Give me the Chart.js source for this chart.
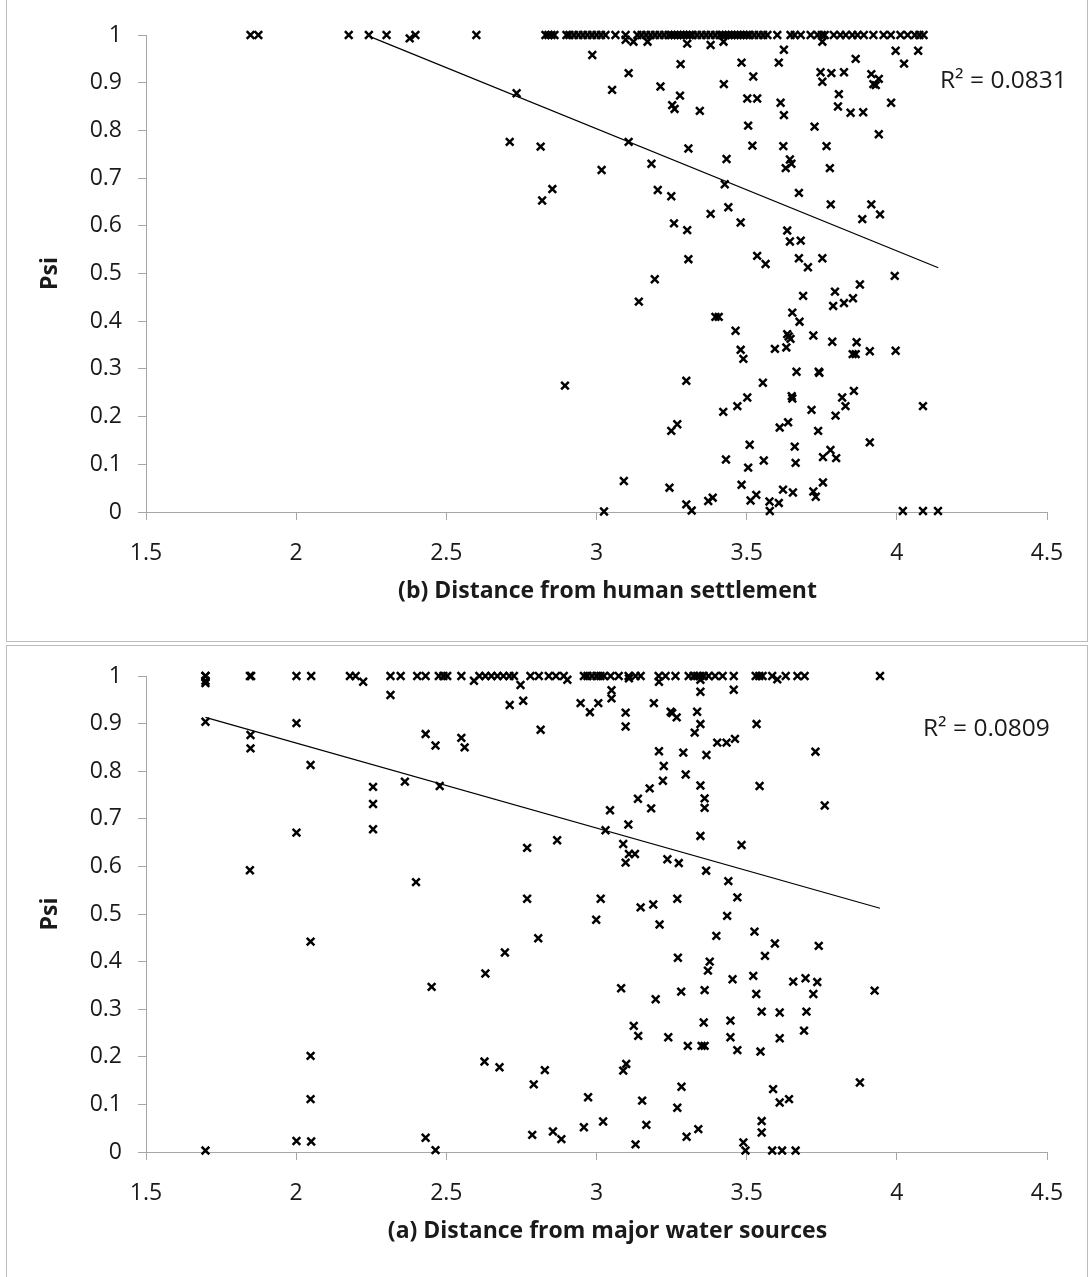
<!DOCTYPE html>
<html>
<head>
<meta charset="utf-8">
<script src="https://cdn.jsdelivr.net/npm/chart.js@4.4.1/dist/chart.umd.min.js"></script>
<style>
  html, body { margin: 0; padding: 0; background: #fff; width: 1088px; height: 1277px; overflow: hidden; }
  .panel { position: absolute; left: 6px; width: 1080px; border: 1px solid #bcbcbc; background: #fff; }
  #p1 { top: -1px; height: 641px; }
  #p2 { top: 645px; height: 640px; }
  canvas { display: block; }
</style>
</head>
<body>
<div class="panel" id="p1"><canvas id="c1" width="1080" height="641"></canvas></div>
<div class="panel" id="p2"><canvas id="c2" width="1080" height="631"></canvas></div>
<script>
// ---------- DATA ----------
const xTickLabels = ['1.5', '2', '2.5', '3', '3.5', '4', '4.5'];
const yTickLabels = ['0', '0.1', '0.2', '0.3', '0.4', '0.5', '0.6', '0.7', '0.8', '0.9', '1'];
const xTitles = ['(b) Distance from human settlement', '(a) Distance from major water sources'];
const yTitle = 'Psi';
const r2Labels = ['R² = 0.0831', 'R² = 0.0809'];

// (b) settlement: points sitting at Psi = 1 (x only)
const settlementAtOne = [1.848, 1.874, 2.175, 2.242, 2.301, 2.397, 2.60, 2.83, 2.84, 2.85, 2.86,
  2.90, 2.91, 2.925, 2.94, 2.955, 2.97, 2.985, 3.00, 3.015, 3.03, 3.063, 3.097, 3.136, 3.15, 3.165,
  3.18, 3.195, 3.21, 3.225, 3.24, 3.25, 3.26, 3.27, 3.28, 3.29, 3.30, 3.31, 3.32, 3.335, 3.35, 3.365,
  3.38, 3.395, 3.41, 3.42, 3.43, 3.44, 3.45, 3.46, 3.47, 3.48, 3.49, 3.50, 3.51, 3.525, 3.54, 3.555,
  3.569, 3.602, 3.646, 3.66, 3.68, 3.713, 3.736, 3.75, 3.76, 3.79, 3.812, 3.83, 3.852, 3.869, 3.89,
  3.922, 3.956, 3.98, 4.012, 4.036, 4.06, 4.075, 4.089];
// (b) settlement: other points [x, Psi]
const settlementPoints = [
  [2.378,0.993],[3.097,0.99],[3.123,0.986],[3.17,0.986],[3.302,0.982],[3.38,0.979],[3.423,0.986],[3.752,0.986],
  [2.986,0.958],[3.107,0.92],[3.052,0.885],[2.734,0.878],[3.107,0.776],[2.711,0.776],[2.814,0.766],[3.017,0.717],
  [2.853,0.677],[2.819,0.653],[2.895,0.265],[3.091,0.065],[3.025,0.001],
  [3.624,0.969],[3.996,0.967],[4.071,0.967],[3.280,0.939],[3.483,0.942],[3.607,0.942],[3.863,0.950],[4.024,0.940],
  [3.522,0.913],[3.746,0.922],[3.782,0.920],[3.824,0.922],[3.752,0.902],[3.915,0.918],[3.940,0.908],[3.922,0.897],
  [3.93,0.895],[3.213,0.892],[3.424,0.897],[3.278,0.873],[3.252,0.853],[3.260,0.845],[3.344,0.841],[3.502,0.867],
  [3.535,0.867],[3.613,0.858],[3.624,0.832],[3.807,0.876],[3.804,0.850],[3.846,0.837],[3.888,0.838],[3.981,0.858],
  [3.505,0.810],[3.726,0.808],[3.940,0.792],[3.306,0.762],[3.519,0.768],[3.622,0.767],[3.766,0.767],[3.183,0.730],
  [3.433,0.740],[3.644,0.739],[3.649,0.730],[3.630,0.721],[3.777,0.721],[3.204,0.675],[3.249,0.662],[3.427,0.687],
  [3.674,0.669],[3.780,0.645],[3.258,0.605],[3.302,0.591],[3.380,0.625],[3.439,0.639],[3.480,0.607],[3.635,0.590],
  [3.644,0.567],[3.680,0.569],[3.885,0.614],[3.915,0.645],[3.944,0.624],[3.306,0.530],[3.535,0.537],[3.563,0.520],
  [3.674,0.532],[3.704,0.513],[3.752,0.532],[3.993,0.495],[3.194,0.488],
  [3.141,0.441],[3.688,0.453],[3.794,0.462],[3.877,0.477],[3.788,0.432],[3.824,0.438],[3.854,0.448],[3.396,0.409],
  [3.407,0.409],[3.652,0.418],[3.676,0.399],[3.463,0.380],[3.722,0.370],[3.785,0.357],[3.635,0.373],[3.646,0.363],
  [3.640,0.368],[3.632,0.345],[3.594,0.342],[3.480,0.340],[3.489,0.321],[3.866,0.356],[3.863,0.331],[3.853,0.331],
  [3.910,0.337],[3.996,0.338],[3.666,0.294],[3.740,0.294],[3.742,0.292],[3.299,0.275],[3.554,0.271],[3.650,0.243],
  [3.652,0.238],[3.502,0.240],[3.469,0.222],[3.422,0.210],[3.716,0.214],[3.818,0.240],[3.857,0.254],[3.829,0.222],
  [3.796,0.202],[4.087,0.222],[3.269,0.184],[3.249,0.170],[3.638,0.188],[3.610,0.177],[3.738,0.170],[3.510,0.141],
  [3.910,0.146],[3.660,0.137],[3.779,0.130],[3.754,0.115],[3.798,0.113],[3.431,0.110],[3.505,0.093],[3.557,0.108],
  [3.663,0.103],[3.243,0.051],[3.483,0.057],[3.621,0.047],[3.654,0.041],[3.722,0.043],[3.730,0.032],[3.754,0.062],
  [3.299,0.016],[3.317,0.003],[3.372,0.023],[3.387,0.030],[3.513,0.024],[3.532,0.036],[3.576,0.022],[3.607,0.019],
  [3.577,0.002],[4.020,0.002],[4.087,0.002],[4.137,0.002]
];
const settlementTrendX = [2.248, 4.138];
const settlementTrendY = [0.996, 0.512];

// (a) water: points sitting at Psi = 1 (x only)
const waterAtOne = [1.698, 1.698, 1.846, 1.85, 2.001, 2.050, 2.179, 2.198, 2.314, 2.348, 2.403, 2.431,
  2.475, 2.49, 2.503, 2.550, 2.61, 2.63, 2.65, 2.67, 2.69, 2.71, 2.725, 2.780, 2.808, 2.841, 2.865,
  2.891, 2.958, 2.97, 2.985, 3.0, 3.013, 3.025, 3.047, 3.074, 3.107, 3.13, 3.147, 3.207, 3.230, 3.263,
  3.307, 3.323, 3.335, 3.345, 3.357, 3.373, 3.395, 3.420, 3.457, 3.530, 3.542, 3.553, 3.585, 3.630,
  3.669, 3.693, 3.944];
// (a) water: other points [x, Psi]
const waterPoints = [
  [1.698,0.99],[1.698,0.985],[2.223,0.988],[2.592,0.99],[2.903,0.992],[3.108,0.995],[3.208,0.988],[3.346,0.992],[3.602,0.993],
  [2.314,0.960],[2.747,0.981],[2.711,0.939],[2.756,0.948],[2.947,0.943],[2.978,0.924],[3.006,0.943],[3.05,0.97],
  [3.05,0.953],[1.698,0.904],[1.848,0.876],[1.848,0.848],[2.001,0.901],[2.048,0.813],[2.431,0.878],[2.464,0.854],
  [2.550,0.870],[2.561,0.850],[2.814,0.887],[2.256,0.767],[2.256,0.731],[2.256,0.678],[2.362,0.778],[2.478,0.769],
  [3.030,0.676],[3.045,0.718],[2.001,0.671],[2.769,0.639],[2.869,0.655],[1.846,0.592],[2.399,0.567],[2.769,0.532],
  [3.014,0.532],[2.999,0.488],[2.048,0.442],[2.806,0.449],[2.695,0.419],[2.630,0.375],[2.451,0.347],[2.048,0.202],
  [2.627,0.190],[2.677,0.178],[2.828,0.172],[2.791,0.142],[2.972,0.115],[2.048,0.111],[3.022,0.064],[2.958,0.052],
  [2.786,0.036],[2.855,0.043],[2.883,0.027],[2.001,0.023],[2.050,0.022],[2.431,0.030],[2.464,0.004],[1.698,0.003],
  [3.346,0.967],[3.457,0.971],[3.097,0.923],[3.191,0.943],[3.097,0.894],[3.247,0.925],[3.252,0.922],[3.267,0.913],
  [3.335,0.925],[3.346,0.899],[3.327,0.881],[3.533,0.899],[3.402,0.860],[3.433,0.860],[3.461,0.868],[3.208,0.842],
  [3.289,0.839],[3.366,0.834],[3.729,0.841],[3.224,0.811],[3.297,0.793],[3.221,0.780],[3.177,0.764],[3.346,0.770],
  [3.543,0.769],[3.138,0.742],[3.182,0.722],[3.360,0.743],[3.360,0.723],[3.760,0.728],[3.106,0.688],[3.089,0.647],
  [3.108,0.626],[3.128,0.626],[3.097,0.608],[3.236,0.615],[3.274,0.607],[3.346,0.664],[3.365,0.591],[3.483,0.645],
  [3.439,0.569],[3.469,0.535],[3.147,0.514],[3.189,0.520],[3.269,0.532],[3.435,0.496],
  [3.210,0.478],[3.399,0.454],[3.526,0.463],[3.594,0.438],[3.740,0.433],[3.561,0.412],[3.271,0.408],[3.377,0.400],
  [3.371,0.381],[3.082,0.344],[3.197,0.321],[3.282,0.337],[3.360,0.340],[3.453,0.363],[3.522,0.370],[3.532,0.332],
  [3.655,0.358],[3.696,0.365],[3.735,0.357],[3.722,0.332],[3.926,0.339],[3.550,0.295],[3.610,0.293],[3.699,0.295],
  [3.124,0.265],[3.139,0.244],[3.239,0.241],[3.304,0.223],[3.350,0.223],[3.360,0.223],[3.357,0.272],[3.446,0.276],
  [3.446,0.241],[3.469,0.214],[3.546,0.211],[3.610,0.239],[3.691,0.255],[3.089,0.171],[3.099,0.185],[3.283,0.137],
  [3.152,0.108],[3.269,0.093],[3.877,0.146],[3.588,0.132],[3.610,0.104],[3.641,0.111],[3.166,0.057],[3.130,0.016],
  [3.300,0.032],[3.339,0.048],[3.550,0.065],[3.550,0.041],[3.489,0.020],[3.496,0.003],[3.585,0.003],[3.618,0.003],
  [3.663,0.003]
];
const waterTrendX = [1.698, 3.944];
const waterTrendY = [0.913, 0.512];

// ---------- CHART ----------
const FONT = "'Open Sans', 'Liberation Sans', sans-serif";
const AXIS_GRAY = '#a6a6a6';
const TEXT = '#1a1a1a';

// draws the R² note and the x-axis title (title is offset a little right of the plot centre, as in the original)
const textPlugin = {
  id: 'extratext',
  afterDraw(chart, args, opts) {
    const ctx = chart.ctx;
    const ca = chart.chartArea;
    ctx.save();
    ctx.fillStyle = TEXT;
    ctx.textBaseline = 'middle';
    ctx.textAlign = 'left';
    ctx.font = '24.5px ' + FONT;
    ctx.fillText(opts.r2, ca.right + opts.r2dx, ca.top + opts.r2dy);
    ctx.textAlign = 'center';
    ctx.font = 'bold 23px ' + FONT;
    ctx.fillText(opts.xTitle, (ca.left + ca.right) / 2 + 11, ca.bottom + 79);
    ctx.restore();
  }
};

function makeChart(id, atOne, pts, trendX, trendY, xTitle, r2, cfg) {
  const scatter = atOne.map(x => ({ x: x, y: 1 })).concat(pts.map(p => ({ x: p[0], y: p[1] })));
  const trend = trendX.map((x, i) => ({ x: x, y: trendY[i] }));
  return new Chart(document.getElementById(id), {
    type: 'scatter',
    data: {
      datasets: [
        { data: scatter, pointStyle: 'crossRot', pointRadius: 5.4, borderWidth: 2.5,
          borderColor: '#000', backgroundColor: '#000', clip: false, pointHoverRadius: 5.4 },
        { data: trend, showLine: true, pointRadius: 0, borderWidth: 1.2,
          borderColor: '#000', backgroundColor: '#000', fill: false, clip: false }
      ]
    },
    options: {
      responsive: false,
      animation: false,
      devicePixelRatio: 1,
      events: [],
      layout: { padding: { top: cfg.top, right: 40, left: 0, bottom: 0 } },
      plugins: { legend: { display: false }, tooltip: { enabled: false },
        extratext: { r2: r2, r2dx: cfg.r2dx, r2dy: cfg.r2dy, xTitle: xTitle } },
      scales: {
        x: {
          type: 'linear', min: 1.5, max: 4.5,
          afterFit(s) { s.height = cfg.xh; },
          afterBuildTicks(s) { s.ticks = xTickLabels.map(v => ({ value: parseFloat(v) })); },
          ticks: { callback: (v, i) => xTickLabels[i], font: { family: FONT, size: 23 }, color: TEXT,
            padding: 20, maxRotation: 0, autoSkip: false },
          grid: { drawOnChartArea: false, drawTicks: true, tickLength: 8, color: AXIS_GRAY, tickColor: AXIS_GRAY },
          border: { display: true, color: AXIS_GRAY, width: 1 },
          title: { display: false }
        },
        y: {
          type: 'linear', min: 0, max: 1,
          afterFit(s) { s.width = 139; },
          afterBuildTicks(s) { s.ticks = yTickLabels.map(v => ({ value: parseFloat(v) })); },
          ticks: { callback: (v, i) => yTickLabels[i], font: { family: FONT, size: 23 }, color: TEXT,
            padding: 16, autoSkip: false },
          grid: { drawOnChartArea: false, drawTicks: true, tickLength: 8, color: AXIS_GRAY, tickColor: AXIS_GRAY },
          border: { display: true, color: AXIS_GRAY, width: 1 },
          title: { display: true, text: yTitle, font: { family: FONT, size: 23, weight: 'bold' }, color: TEXT,
            padding: { top: 30, bottom: 0 } }
        }
      }
    },
    plugins: [textPlugin]
  });
}

makeChart('c1', settlementAtOne, settlementPoints, settlementTrendX, settlementTrendY, xTitles[0], r2Labels[0],
  { top: 35, xh: 129, r2dx: -107, r2dy: 46 });
makeChart('c2', waterAtOne, waterPoints, waterTrendX, waterTrendY, xTitles[1], r2Labels[1],
  { top: 30, xh: 125, r2dx: -124, r2dy: 53 });
</script>
</body>
</html>
